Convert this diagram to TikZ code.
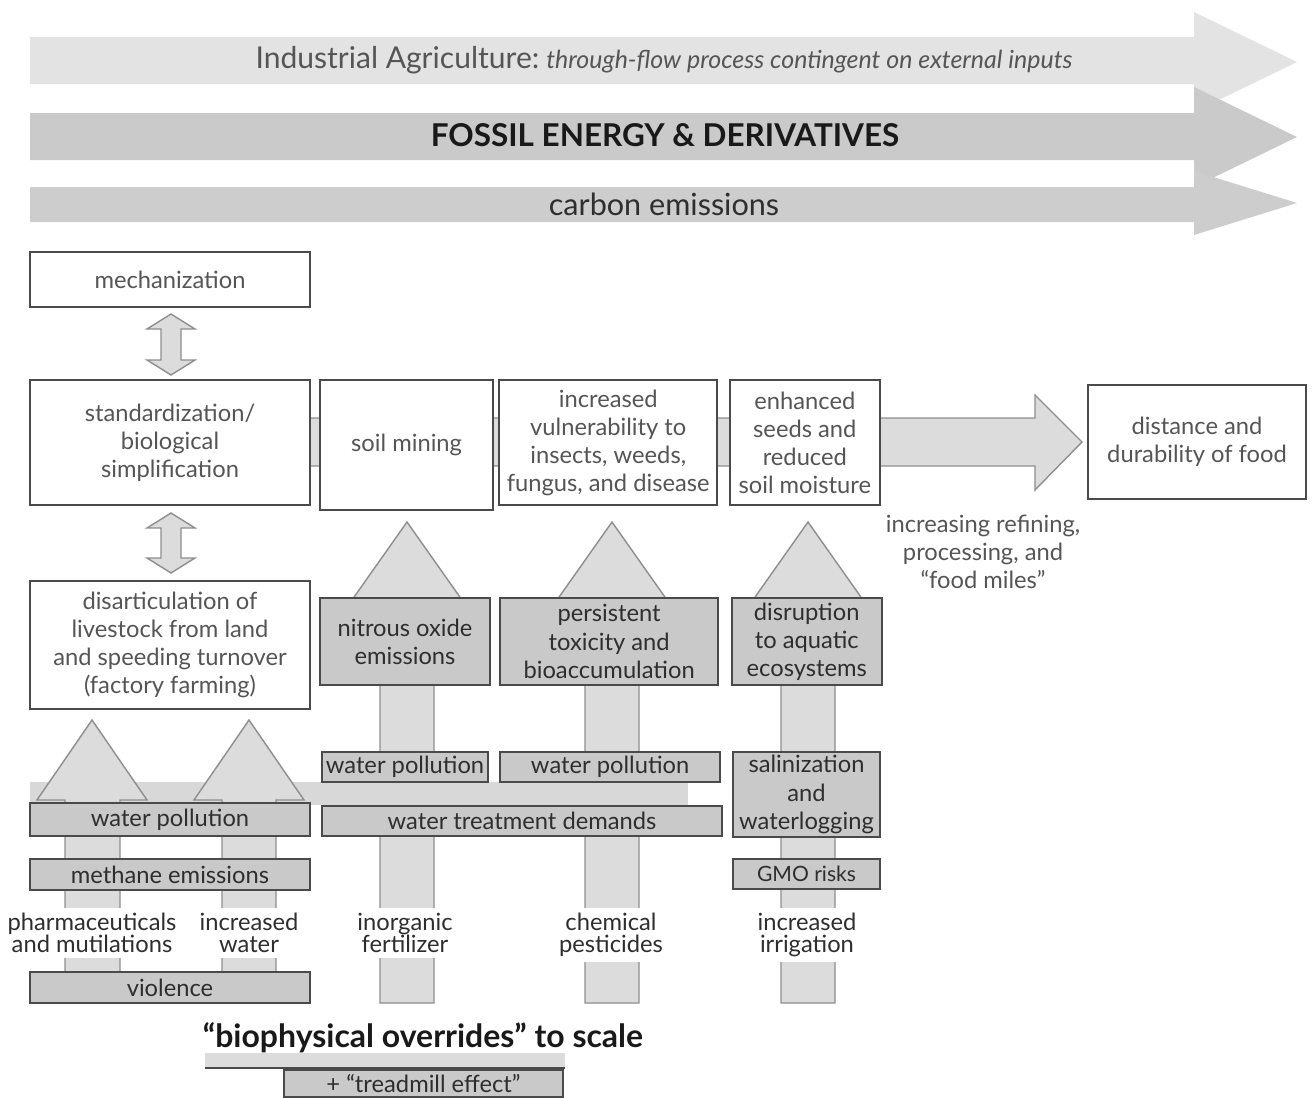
\documentclass[tikz,border=0pt]{standalone}
\usepackage{fontspec}
\setmainfont{Lato}
\usetikzlibrary{positioning}

\definecolor{boxline}{HTML}{4A4A4A}
\definecolor{boxgray}{HTML}{C9C9C9}
\definecolor{textgray}{HTML}{555555}
\definecolor{textdark}{HTML}{2E2E2E}
\definecolor{arrowgray}{HTML}{DCDCDC}
\definecolor{arrowline}{HTML}{8E8E8E}
\definecolor{bandgray}{HTML}{D8D8D8}
\definecolor{topone}{HTML}{E3E3E3}
\definecolor{toptwo}{HTML}{CACACA}
\definecolor{topthree}{HTML}{CDCDCD}

\newcommand{\boxfont}{\fontsize{13.5}{16}\selectfont}
\newcommand{\lblfont}{\fontsize{13.5}{12.5}\selectfont}

\begin{document}
\begin{tikzpicture}[x=0.2mm, y=-0.2mm,
        white_box/.style={rectangle, draw=boxline, fill=white, line width=1.2pt, inner sep=0pt, align=center, text=textgray, font=\boxfont},
        gray_box/.style={white_box, fill=boxgray, text=textdark},
        block_arrow/.style={draw=arrowline, fill=arrowgray, line width=0.8pt},
        foot_label/.style={fill=white, inner xsep=1pt, inner ysep=3pt, align=center, text=textdark, font=\lblfont}
        ]
            \path[use as bounding box, fill=white] (0,0) rectangle (1313,1098);

            % top arrows
            \fill[topone]   (30,37)  -- (1194,37)  -- (1194,12)  -- (1297,62)  -- (1194,112) -- (1194,84)  -- (30,84)  -- cycle;
            \fill[toptwo]   (30,113) -- (1194,113) -- (1194,87)  -- (1297,137) -- (1194,187) -- (1194,160) -- (30,160) -- cycle;
            \fill[topthree] (30,187) -- (1194,187) -- (1194,171) -- (1297,203) -- (1194,235) -- (1194,222) -- (30,222) -- cycle;
            \node[text=textgray, font=\fontsize{17.1}{18}\selectfont] (ind_txt) at (664,60)
                {Industrial Agriculture:\hspace{4pt}{\itshape\fontsize{14.2}{16}\selectfont through-flow process contingent on external inputs}};
            \node[text=black!90, font=\fontsize{17.9}{20}\selectfont\bfseries] (fossil_txt) at (665,135) {FOSSIL ENERGY \& DERIVATIVES};
            \node[text=textdark, font=\fontsize{17.4}{20}\selectfont] (carbon_txt) at (664,204) {carbon emissions};

            % flow to food
            \filldraw[block_arrow] (310,418) -- (1035,418) -- (1035,395) -- (1082,442) -- (1035,490) -- (1035,466) -- (310,466) -- cycle;

            % input arrows
            \filldraw[block_arrow] (407,522) -- (462,600) -- (434,600) -- (434,1003) -- (380,1003) -- (380,600) -- (352,600) -- cycle;
            \filldraw[block_arrow] (612,522) -- (667,600) -- (639,600) -- (639,1003) -- (585,1003) -- (585,600) -- (557,600) -- cycle;
            \filldraw[block_arrow] (808,522) -- (863,600) -- (835,600) -- (835,1003) -- (781,1003) -- (781,600) -- (753,600) -- cycle;
            \fill[bandgray] (30,782) rectangle (688,805);
            \filldraw[block_arrow] (92,720)  -- (147,800) -- (120,800) -- (120,1000) -- (65,1000)  -- (65,800)  -- (37,800)  -- cycle;
            \filldraw[block_arrow] (249,720) -- (304,800) -- (276,800) -- (276,1000) -- (222,1000) -- (222,800) -- (194,800) -- cycle;

            % double arrows
            \filldraw[block_arrow] (171,314) -- (195,329) -- (181,329) -- (181,360) -- (195,360) -- (171,375) -- (147,360) -- (161,360) -- (161,329) -- (147,329) -- cycle;
            \filldraw[block_arrow] (171,513) -- (195,528) -- (181,528) -- (181,558) -- (195,558) -- (171,573) -- (147,558) -- (161,558) -- (161,528) -- (147,528) -- cycle;

            % upper boxes
            \node[white_box, minimum width=56mm, minimum height=11mm]   (mech) at (170,279.5) {mechanization};
            \node[white_box, minimum width=56mm, minimum height=25mm, below=14.2mm of mech] (std) {standardization/\\biological\\simplification};
            \node[white_box, minimum width=56mm, minimum height=25.6mm, below=14.8mm of std] (dis) {disarticulation of\\livestock from land\\and speeding turnover\\(factory farming)};
            \node[white_box, minimum width=34.6mm, minimum height=26mm, right=1.6mm of std.north east, anchor=north west] (soil) {soil mining};
            \node[white_box, minimum width=43.6mm, minimum height=25mm, right=0.8mm of soil.north east, anchor=north west] (vul) {increased\\vulnerability to\\insects, weeds,\\fungus, and disease};
            \node[white_box, minimum width=30mm, minimum height=25mm, right=2.1mm of vul.north east, anchor=north west] (enh) {enhanced\\seeds and\\reduced\\soil moisture};
            \node[white_box, minimum width=43.6mm, minimum height=22.8mm] (dist) at (1197,442) {distance and\\durability of food};
            \node[text=textgray, align=center, font=\boxfont] (refine) at (983,552) {increasing refining,\\processing, and\\“food miles”};

            % effect boxes
            \node[gray_box, minimum width=34mm, minimum height=17.4mm]   (nitrous) at (405,641.5) {nitrous oxide\\emissions};
            \node[gray_box, minimum width=43.6mm, minimum height=17.4mm, right=1.6mm of nitrous] (persist) {persistent\\toxicity and\\bioaccumulation};
            \node[gray_box, minimum width=30mm, minimum height=17.4mm, right=2.3mm of persist] (disrupt) {disruption\\to aquatic\\ecosystems};

            % side effects
            \node[gray_box, minimum width=33.2mm, minimum height=6mm] (wp_fert) at (405,767) {water pollution};
            \node[gray_box, minimum width=44mm, minimum height=6mm, right=2mm of wp_fert] (wp_pest) {water pollution};
            \node[gray_box, minimum width=29.4mm, minimum height=17mm] (salin) at (806.5,794.5) {salinization\\and\\waterlogging};
            \node[gray_box, minimum width=29.4mm, minimum height=6mm, below=4mm of salin, font=\fontsize{12}{14}\selectfont] (gmo) {GMO risks};
            \node[gray_box, minimum width=80mm, minimum height=6mm] (treat) at (522,821) {water treatment demands};
            \node[gray_box, minimum width=56mm, minimum height=6.6mm] (wp_live) at (170,819.5) {water pollution};
            \node[gray_box, minimum width=56mm, minimum height=6.2mm, below=4.2mm of wp_live] (methane) {methane emissions};
            \node[gray_box, minimum width=56mm, minimum height=6.2mm] (violence) at (170,987.5) {violence};

            % inputs
            \node[foot_label] (pharma) at (92,933)  {pharmaceuticals\\and mutilations};
            \node[foot_label] (water)  at (249,933) {increased\\water};
            \node[foot_label] (fert)   at (405,933) {inorganic\\fertilizer};
            \node[foot_label] (pest)   at (611,935) {chemical\\pesticides};
            \node[foot_label] (irrig)  at (807,935) {increased\\irrigation};

            % scale note
            \node[text=black!90, font=\fontsize{18.2}{20}\selectfont\bfseries] (biophys) at (423,1038) {“biophysical overrides” to scale};
            \fill[arrowgray] (205,1053) rectangle (565,1068);
            \draw[boxline, line width=1pt] (205,1068) -- (565,1068);
            \node[gray_box, minimum width=55.8mm, minimum height=5.4mm] (tread) at (423.5,1083.5) {+ “treadmill effect”};
        \end{tikzpicture}
\end{document}
